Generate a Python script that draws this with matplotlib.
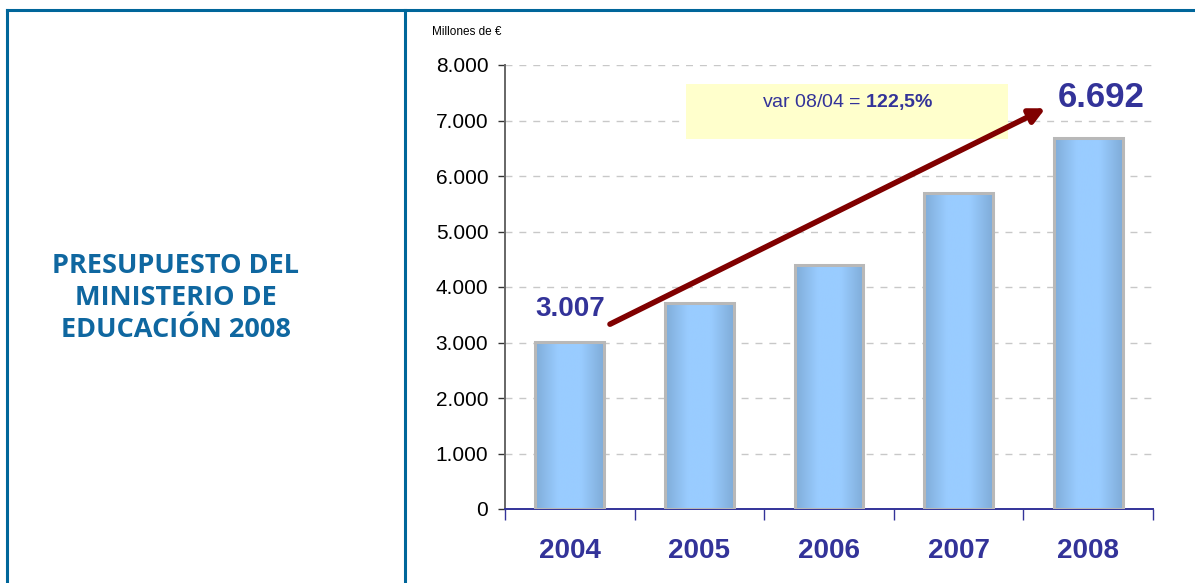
"""Presupuesto del Ministerio de Educación 2004-2008."""

import matplotlib
matplotlib.use("Agg")
import matplotlib.pyplot as plt
from matplotlib.colors import LinearSegmentedColormap
from matplotlib.patches import Rectangle
import numpy as np

YEARS = ["2004", "2005", "2006", "2007", "2008"]
BUDGET = [3007, 3715, 4405, 5685, 6692]
Y_TICKS = [0, 1000, 2000, 3000, 4000, 5000, 6000, 7000, 8000]
Y_TICK_LABELS = ["0", "1.000", "2.000", "3.000", "4.000", "5.000", "6.000", "7.000", "8.000"]

FRAME = "#00669a"
NAVY = "#333399"
DARK_RED = "#800000"
YELLOW = "#ffffcc"
BAR_EDGE = "#b8b8b8"

plt.rcParams.update({
    "font.family": ["Liberation Sans", "DejaVu Sans"],
    "mathtext.fontset": "custom",
    "mathtext.rm": "Liberation Sans",
    "mathtext.bf": "Liberation Sans:bold",
})

fig = plt.figure(figsize=(11.95, 5.83), dpi=100, facecolor="white")

# outer frame and divider, in figure pixels
bg = fig.add_axes([0, 0, 1, 1])
bg.set_xlim(0, 1195)
bg.set_ylim(583, 0)
bg.axis("off")
bg.plot([7, 7], [10, 583], color=FRAME, linewidth=2.2)
bg.plot([7, 1195], [10, 10], color=FRAME, linewidth=2.2)
bg.plot([405, 405], [10, 583], color=FRAME, linewidth=2.2)
bg.text(176, 298, "PRESUPUESTO DEL\nMINISTERIO DE\nEDUCACIÓN 2008", color="#0f67a0",
        fontsize=19.5, fontweight="bold", family="Open Sans", ha="center", va="center",
        linespacing=1.32)
bg.text(432, 32, "Millones de €", fontsize=8.5, color="black", va="center")

ax = fig.add_axes([505 / 1195, 1 - 509 / 583, 648 / 1195, 444 / 583])

# gradient bars
cmap = LinearSegmentedColormap.from_list(
    "bar", ["#80acd8", "#99ccff", "#99ccff", "#80acd8"])
grad = np.linspace(0, 1, 200).reshape(1, -1)
width = 0.53
ax.bar(range(len(YEARS)), BUDGET, width=width, facecolor="none",
       edgecolor=BAR_EDGE, linewidth=2.2, zorder=3)
for x, v in zip(range(len(YEARS)), BUDGET):
    ax.imshow(grad, cmap=cmap, aspect="auto", zorder=2,
              extent=(x - width / 2, x + width / 2, 0, v))
ax.set_xlim(-0.5, 4.5)
ax.set_ylim(0, 8000)

ax.set_yticks(Y_TICKS)
ax.set_yticklabels(Y_TICK_LABELS, fontsize=15)
ax.yaxis.grid(True, linestyle=(0, (5, 5)), color="#c8c8c8", linewidth=1)
ax.set_axisbelow(True)
ax.tick_params(axis="y", length=5, width=1, color="#333333", pad=7)

ax.set_xticks([-0.5, 0.5, 1.5, 2.5, 3.5, 4.5])
ax.set_xticklabels([])
ax.tick_params(axis="x", direction="out", length=8, color=NAVY, width=1)
for i, year in enumerate(YEARS):
    ax.text(i, -750, year, ha="center", va="center", fontsize=20,
            fontweight="bold", color=NAVY)

ax.spines[["top", "right"]].set_visible(False)
ax.spines["left"].set_color("#666666")
ax.spines["left"].set_linewidth(1.4)
ax.spines["bottom"].set_color(NAVY)
ax.spines["bottom"].set_linewidth(1.4)

# value labels
ax.text(0, 3604, "3.007", ha="center", va="center", fontsize=20,
        fontweight="bold", color=NAVY)
ax.text(4.1, 7420, "6.692", ha="center", va="center", fontsize=25,
        fontweight="bold", color=NAVY)

# variation box
ax.add_patch(Rectangle((0.9, 6660), 2.48, 1000, facecolor=YELLOW,
                       edgecolor="none", zorder=1))
ax.text(2.145, 7333, "var 08/04 = $\\mathbf{122{,}5\\%}$", ha="center", va="center",
        fontsize=14, color=NAVY)

# growth arrow
ax.annotate("", xy=(3.67, 7220), xytext=(0.31, 3330),
            arrowprops=dict(arrowstyle="-|>,head_length=0.9,head_width=0.45",
                            color=DARK_RED, linewidth=4, shrinkA=0, shrinkB=0),
            zorder=5)

fig.savefig("out.png", dpi=100, facecolor="white")
